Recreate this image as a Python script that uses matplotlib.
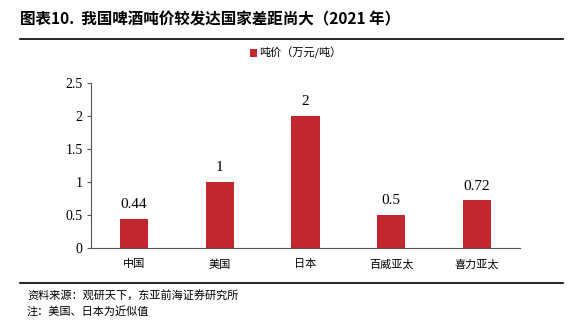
import matplotlib.pyplot as plt
from matplotlib.lines import Line2D

# Data
countries = ['中国', '美国', '日本', '百威亚太', '喜力亚太']
price = [0.44, 1, 2, 0.5, 0.72]
labels = ['0.44', '1', '2', '0.5', '0.72']

cjk = ['Noto Sans CJK SC', 'DejaVu Sans']
num = ['Liberation Serif', 'DejaVu Serif']
red = '#C1272D'

fig = plt.figure(figsize=(5.8, 3.23), dpi=100)
W, H = 580, 323
ax = fig.add_axes([91 / W, 1 - 248 / H, (520 - 91) / W, (248 - 83) / H])

x = range(len(countries))
bars = ax.bar(x, price, width=0.33, color=red, label='吨价（万元/吨）')
for xi, v, t in zip(x, price, labels):
    ax.text(xi, v + 0.12, t, ha='center', va='bottom', fontsize=11, family=num)

ax.set_xlim(-0.5, 4.5)
ax.set_ylim(0, 2.5)
ax.set_yticks([0, 0.5, 1, 1.5, 2, 2.5])
ax.set_yticklabels(['0', '0.5', '1', '1.5', '2', '2.5'], family=num, fontsize=10)
ax.set_xticks(list(x))
ax.set_xticklabels(countries, family=cjk, fontsize=8)
ax.tick_params(axis='x', length=0, pad=8)
ax.tick_params(axis='y', length=3, width=0.8, color='#555555', pad=3)
for s in ['top', 'right']:
    ax.spines[s].set_visible(False)
for s in ['left', 'bottom']:
    ax.spines[s].set_color('#555555')
    ax.spines[s].set_linewidth(0.8)

leg = fig.legend(handles=[bars], loc='center left', bbox_to_anchor=(244 / W, 1 - 53 / H),
                 frameon=False, prop={'family': cjk, 'size': 8},
                 handlelength=0.7, handleheight=0.7, handletextpad=0.2, borderpad=0)

# Title and rules
fig.text(20 / W, 1 - 19 / H, '图表10.  我国啤酒吨价较发达国家差距尚大（2021 年）',
         family=cjk, fontsize=11.2, fontweight='bold', va='center', ha='left')
fig.add_artist(Line2D([20 / W, 563 / W], [1 - 39 / H, 1 - 39 / H], color='black', lw=1.2))
fig.add_artist(Line2D([20 / W, 563 / W], [1 - 283 / H, 1 - 283 / H], color='black', lw=1.2))
fig.text(27 / W, 1 - 295 / H, '资料来源：观研天下，东亚前海证券研究所', family=cjk, fontsize=8, va='center')
fig.text(27 / W, 1 - 311 / H, '注：美国、日本为近似值', family=cjk, fontsize=8, va='center')

fig.savefig('out.png', dpi=100)
